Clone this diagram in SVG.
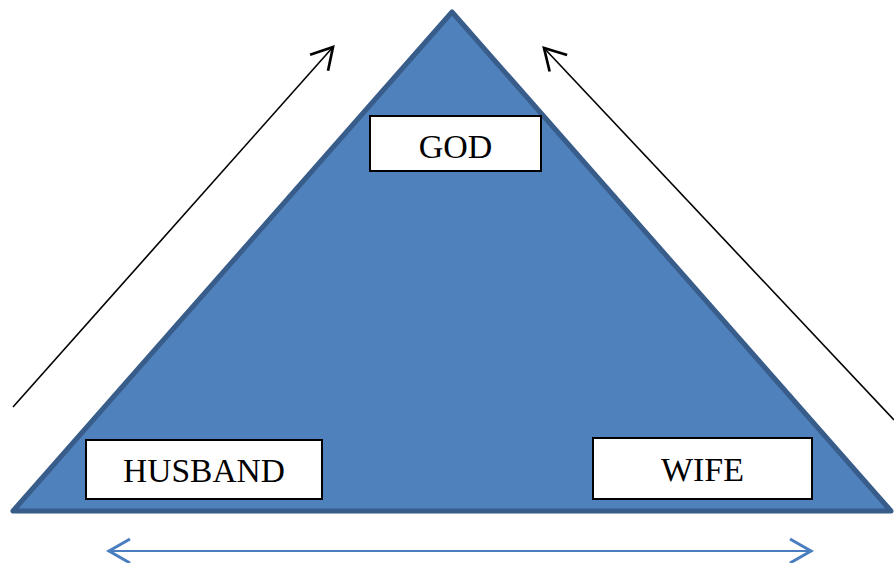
<svg xmlns="http://www.w3.org/2000/svg" width="894" height="563" viewBox="0 0 894 563">
<style>
.box{fill:#fff;stroke:#000;stroke-width:2}
.lbl{font-family:"Liberation Serif","Times New Roman",serif;font-size:34px;fill:#000;text-anchor:middle}
.blk{stroke:#000;stroke-width:1.6;fill:none}
.blu{stroke:#4a7ec0;stroke-width:2;fill:none}
</style>
<defs>
<marker id="hb" markerUnits="userSpaceOnUse" markerWidth="30" markerHeight="30" refX="16" refY="10" orient="auto" viewBox="0 0 20 20">
<path d="M2,2 L16,10 L2,18" fill="none" stroke="#000" stroke-width="1.8"/>
</marker>
<marker id="hbl" markerUnits="userSpaceOnUse" markerWidth="30" markerHeight="30" refX="16" refY="10" orient="auto-start-reverse" viewBox="0 0 20 20">
<path d="M2,2 L16,10 L2,18" fill="none" stroke="#4a7ec0" stroke-width="2"/>
</marker>
</defs>
<g id="triangle">
<polygon points="452,12 13,511 891,511" fill="#4f81bd" stroke="#385d8a" stroke-width="5" stroke-linejoin="round"/>
</g>
<g id="connectors">
<line class="blk" x1="13" y1="407" x2="333" y2="47" marker-end="url(#hb)"/>
<line class="blk" x1="894" y1="420" x2="544" y2="48" marker-end="url(#hb)"/>
<line class="blu" x1="109" y1="551" x2="811" y2="551" marker-start="url(#hbl)" marker-end="url(#hbl)"/>
</g>
<g id="god">
<rect class="box" x="370" y="116" width="171" height="55"/>
<text class="lbl" x="455.5" y="158">GOD</text>
</g>
<g id="husband">
<rect class="box" x="86" y="440" width="236" height="59"/>
<text class="lbl" x="204" y="482" textLength="162" lengthAdjust="spacingAndGlyphs">HUSBAND</text>
</g>
<g id="wife">
<rect class="box" x="593" y="438" width="219" height="61"/>
<text class="lbl" x="702.5" y="481">WIFE</text>
</g>
</svg>
